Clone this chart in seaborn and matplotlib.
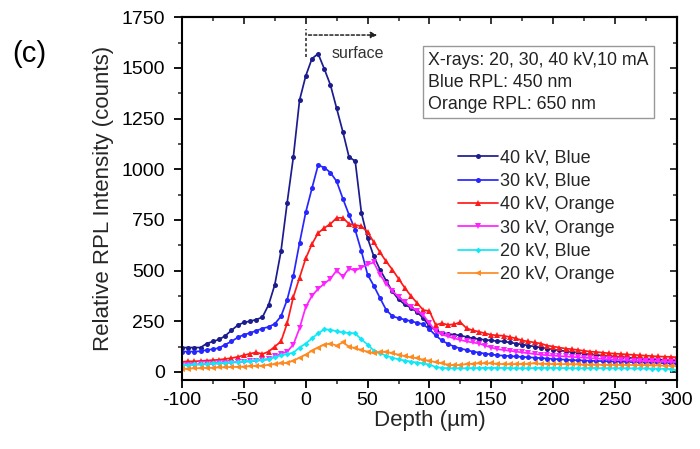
import numpy as np
import pandas as pd
import matplotlib
matplotlib.use("Agg")
import matplotlib.pyplot as plt
import seaborn as sns

# ---------------- data ----------------
depth = list(range(-100, 305, 5))  # µm

kv40_blue = [120, 120, 120, 120, 140, 150, 160, 178, 205, 230,
             244, 250, 258, 270, 331, 430, 595, 835, 1060, 1340,
             1460, 1545, 1570, 1495, 1415, 1300, 1185, 1060, 1040, 785,
             660, 570, 505, 450, 397, 358, 333, 316, 295, 265,
             225, 205, 192, 188, 183, 180, 172, 166, 162, 158,
             155, 152, 150, 145, 140, 135, 130, 125, 120, 115,
             110, 106, 102, 98, 95, 90, 86, 84, 80, 78,
             75, 72, 70, 68, 66, 64, 62, 60, 60, 58, 56]

kv30_blue = [100, 100, 100, 102, 108, 112, 118, 135, 150, 170,
             183, 192, 203, 214, 222, 237, 274, 356, 474, 636,
             787, 905, 1020, 1008, 983, 940, 855, 775, 700, 595,
             480, 425, 365, 306, 275, 265, 258, 250, 242, 235,
             210, 180, 155, 138, 125, 115, 108, 100, 95, 90,
             86, 82, 80, 78, 76, 74, 72, 70, 68, 66,
             64, 62, 60, 58, 57, 56, 55, 54, 53, 52,
             51, 50, 49, 48, 47, 46, 45, 44, 43, 42, 40]

kv40_orange = [50, 52, 52, 54, 56, 58, 60, 64, 68, 74,
               82, 90, 96, 88, 100, 125, 150, 240, 370, 465,
               560, 630, 685, 710, 730, 760, 760, 730, 725, 718,
               690, 640, 590, 545, 505, 460, 415, 375, 340, 305,
               300, 232, 240, 232, 235, 245, 215, 205, 198, 190,
               183, 180, 178, 172, 165, 155, 150, 145, 140, 130,
               125, 120, 115, 112, 108, 104, 100, 98, 95, 92,
               90, 88, 86, 84, 82, 80, 78, 76, 75, 74, 72]

kv30_orange = [35, 35, 36, 37, 38, 40, 42, 44, 46, 48,
               50, 52, 55, 58, 62, 76, 90, 100, 135, 215,
               320, 375, 410, 435, 460, 500, 470, 510, 500, 515,
               530, 540, 480, 435, 400, 370, 345, 320, 300, 280,
               240, 200, 185, 175, 165, 158, 150, 145, 140, 130,
               120, 112, 108, 104, 100, 96, 92, 88, 85, 82,
               80, 78, 76, 74, 72, 70, 68, 66, 64, 62,
               60, 58, 57, 56, 55, 54, 53, 52, 51, 50, 48]

kv20_blue = [35, 36, 37, 38, 40, 42, 44, 46, 48, 50,
             52, 55, 58, 60, 65, 72, 82, 88, 95, 120,
             140, 165, 190, 210, 208, 200, 195, 192, 190, 160,
             135, 105, 92, 80, 70, 62, 56, 51, 46, 42,
             36, 24, 20, 18, 18, 18, 18, 19, 19, 20,
             20, 20, 19, 19, 18, 18, 18, 19, 20, 20,
             20, 19, 19, 18, 18, 18, 19, 19, 18, 18,
             18, 18, 18, 17, 17, 17, 16, 16, 15, 14, 8]

kv20_orange = [15, 16, 18, 18, 20, 20, 22, 22, 24, 25,
               26, 28, 30, 30, 35, 38, 42, 45, 55, 70,
               85, 105, 120, 135, 140, 130, 145, 125, 117, 108,
               100, 92, 98, 100, 92, 85, 78, 72, 68, 60,
               55, 48, 42, 36, 32, 35, 38, 40, 42, 42,
               42, 40, 38, 38, 38, 40, 40, 42, 40, 40,
               38, 38, 38, 37, 37, 36, 36, 36, 35, 35,
               35, 35, 34, 34, 33, 33, 32, 32, 31, 30, 28]

labels = ["40 kV, Blue", "30 kV, Blue", "40 kV, Orange",
          "30 kV, Orange", "20 kV, Blue", "20 kV, Orange"]
series = [kv40_blue, kv30_blue, kv40_orange, kv30_orange, kv20_blue, kv20_orange]
colors = ["#1c1c8f", "#2626ff", "#ff1a1a", "#ff22ff", "#11e8f5", "#ff8a22"]
markers = ["o", "o", "^", "v", "D", "<"]
msizes = [3.6, 3.6, 4.0, 4.0, 3.0, 4.0]

# ---------------- style ----------------
sns.set_theme(style="ticks")
plt.rcParams["font.family"] = ["Liberation Sans", "DejaVu Sans"]
plt.rcParams["axes.unicode_minus"] = False

fig = plt.figure(figsize=(7.0, 4.49), dpi=100)
ax = fig.add_axes([0.26, 0.1537, 0.707, 0.808])

for lab, vals, col, mk, ms in zip(labels, series, colors, markers, msizes):
    df = pd.DataFrame({"Depth": depth, "Intensity": vals})
    sns.lineplot(data=df, x="Depth", y="Intensity", ax=ax, color=col,
                 marker=mk, markersize=ms, markeredgewidth=0,
                 linewidth=1.25, label=lab)

ax.set_xlim(-100, 300)
ax.set_ylim(-40, 1750)
ax.set_xticks(range(-100, 301, 50))
ax.set_xticks(range(-100, 301, 25), minor=True)
ax.set_yticks(range(0, 1751, 250))
ax.set_yticks(range(0, 1751, 125), minor=True)

for sp in ax.spines.values():
    sp.set_linewidth(1.5)
    sp.set_color("black")
    sp.set_visible(True)

ax.tick_params(axis="both", which="major", direction="out", length=5.5,
               width=1.3, labelsize=14, colors="black", pad=3)
ax.tick_params(axis="y", which="major", pad=7)
ax.tick_params(axis="both", which="minor", direction="out", length=3,
               width=1.1)

# mirror ticks inward on top and right
secx = ax.secondary_xaxis("top")
secx.set_xticks(range(-100, 301, 50))
secx.set_xticks(range(-100, 301, 25), minor=True)
secx.tick_params(which="major", direction="in", length=5, width=1.3, labeltop=False)
secx.tick_params(which="minor", direction="in", length=3, width=1.1)
secx.spines["top"].set_linewidth(1.5)
secy = ax.secondary_yaxis("right")
secy.set_yticks(range(0, 1751, 250))
secy.set_yticks(range(0, 1751, 125), minor=True)
secy.tick_params(which="major", direction="in", length=5, width=1.3, labelright=False)
secy.tick_params(which="minor", direction="in", length=3, width=1.1)
secy.spines["right"].set_linewidth(1.5)

ax.set_xlabel("Depth (µm)", fontsize=16, labelpad=1)
ax.set_ylabel("Relative RPL Intensity (counts)", fontsize=16, labelpad=5)

# surface annotation
ax.plot([0, 0], [1555, 1690], linestyle=(0, (2, 1.5)), color="#222222", linewidth=1.1)
ax.annotate("", xy=(60, 1662), xytext=(0, 1662),
            arrowprops=dict(arrowstyle="-|>", linestyle=(0, (2, 1.5)),
                            color="#222222", linewidth=1.1, mutation_scale=9))
ax.text(21, 1572, "surface", fontsize=11.5, color="#333333", va="center", ha="left")

# info box
ax.text(0.497, 0.905,
        "X-rays: 20, 30, 40 kV,10 mA\nBlue RPL: 450 nm\nOrange RPL: 650 nm",
        transform=ax.transAxes, fontsize=12.8, color="#222222", va="top", ha="left",
        linespacing=1.4,
        bbox=dict(boxstyle="square,pad=0.3", facecolor="white",
                  edgecolor="#999999", linewidth=1.0))

leg = ax.legend(loc="upper left", bbox_to_anchor=(0.558, 0.635), frameon=False,
                fontsize=13, handlelength=2.2, handletextpad=0.12,
                labelspacing=0.35, borderaxespad=0, borderpad=0)

fig.text(0.018, 0.88, "(c)", fontsize=21, color="black", ha="left", va="center")

fig.savefig("out.png", dpi=100)
